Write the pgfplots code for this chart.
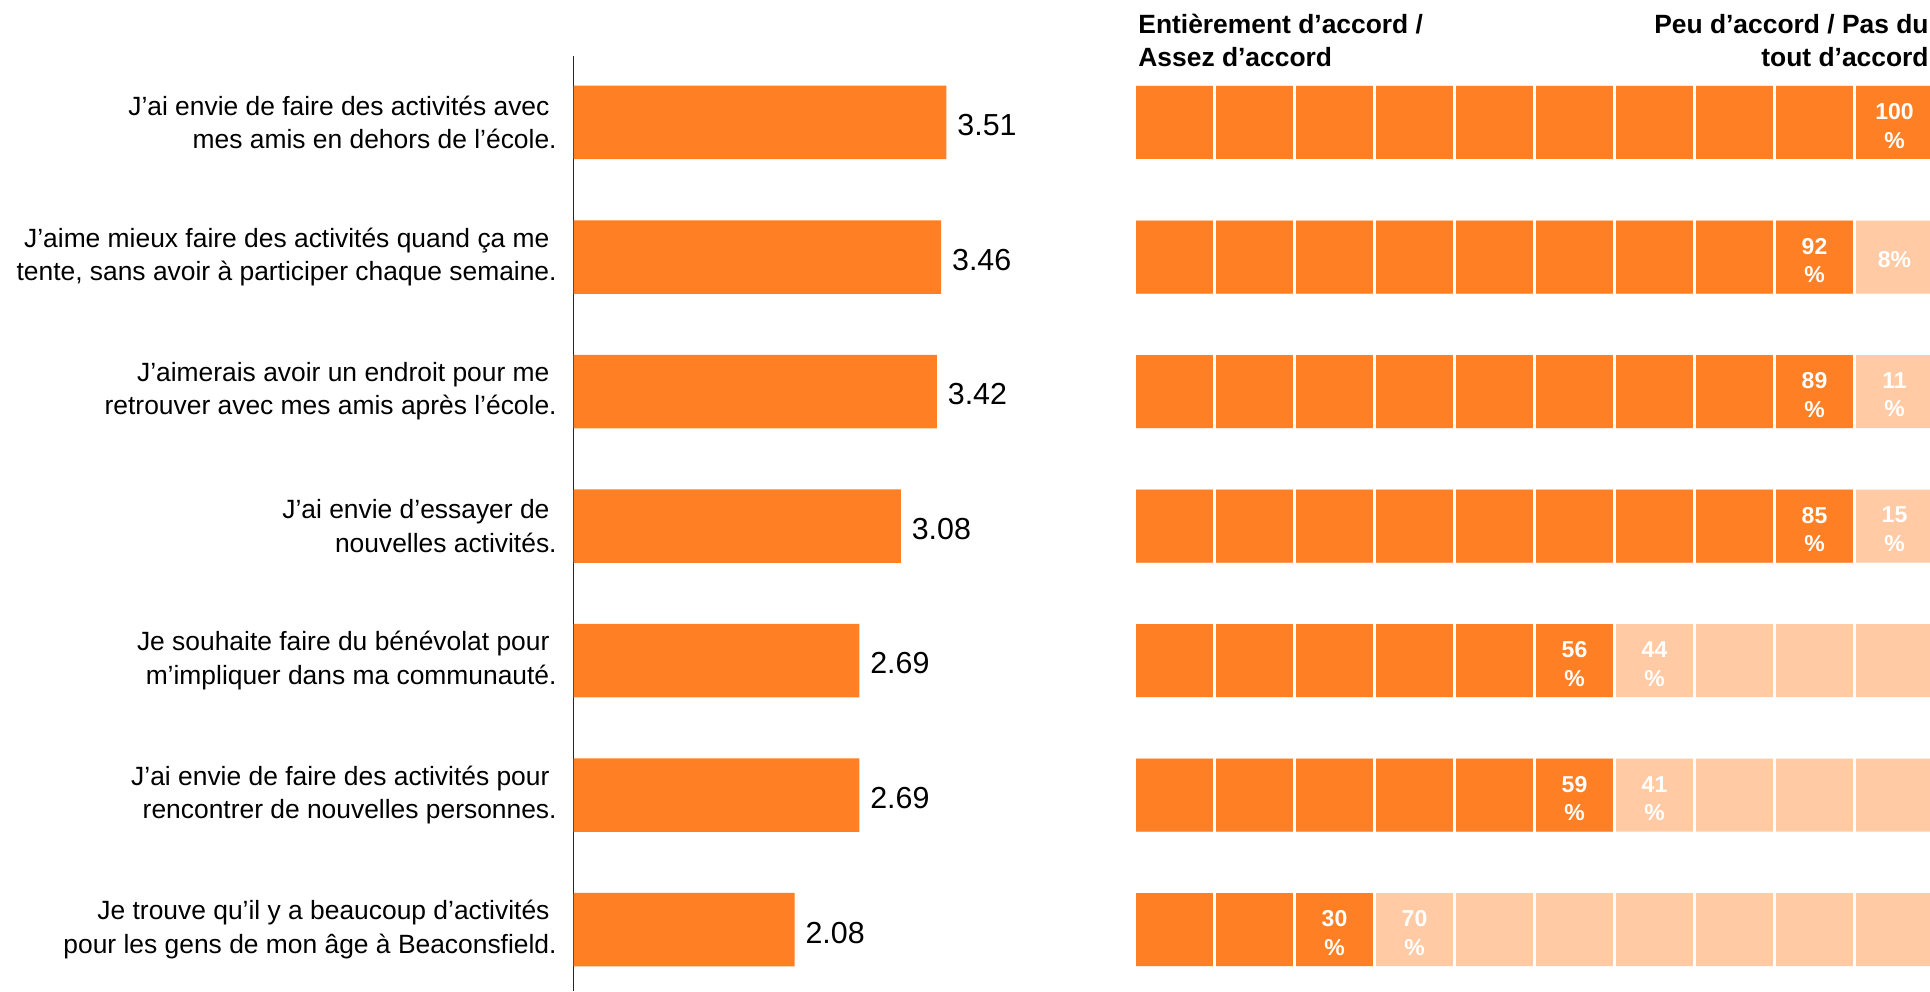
\documentclass[border=0pt]{standalone}
\usepackage{pgfplots}
\usepackage{pgfplotstable}
\pgfplotsset{compat=1.18}
\usepackage{fontspec}
\setmainfont{Liberation Sans}
\definecolor{dark}{RGB}{255,127,36}
\definecolor{light}{RGB}{255,202,164}
\newcommand\labfont{\fontsize{13.2pt}{16.6pt}\selectfont}
\newcommand\valfont{\fontsize{15.2pt}{18pt}\selectfont}
\newcommand\hdrfont{\fontsize{13.2pt}{16.6pt}\selectfont\bfseries}
\newcommand\pctfont{\fontsize{11.5pt}{14.25pt}\selectfont\bfseries}

\pgfplotstableread{
row val
1 3.51
2 3.46
3 3.42
4 3.08
5 2.69
6 2.69
7 2.08
}\leftdata

\pgfplotstableread{
row agree total pctagree pctdis
1 10 10 100 0
2 9 10 92 8
3 9 10 89 11
4 9 10 85 15
5 6 10 56 44
6 6 10 59 41
7 3 10 30 70
}\rightdata

\begin{document}
\begin{tikzpicture}
\useasboundingbox (0pt,0pt) rectangle (965pt,495.5pt);
\clip (0pt,0pt) rectangle (965pt,495.5pt);

\begin{axis}[
  at={(286.75pt,0pt)}, anchor=south west,
  scale only axis, width=265.625pt, height=467.5pt,
  xmin=0, xmax=5, ymin=0.5056, ymax=7.457, y dir=reverse,
  xbar, bar width=36.75pt,
  axis x line=none, axis y line=left,
  y axis line style={-, line width=0.6pt, color=black!85},
  xtick=\empty, ytick={1,...,7}, major tick length=0pt,
  yticklabels={
    {J’ai envie de faire des activités avec\kern0.27em\\mes amis en dehors de l’école.},
    {J’aime mieux faire des activités quand ça me\kern0.27em\\tente, sans avoir à participer chaque semaine.},
    {J’aimerais avoir un endroit pour me\kern0.27em\\retrouver avec mes amis après l’école.},
    {J’ai envie d’essayer de\kern0.27em\\nouvelles activités.},
    {Je souhaite faire du bénévolat pour\kern0.27em\\m’impliquer dans ma communauté.},
    {J’ai envie de faire des activités pour\kern0.27em\\rencontrer de nouvelles personnes.},
    {Je trouve qu’il y a beaucoup d’activités\kern0.27em\\pour les gens de mon âge à Beaconsfield.}
  },
  yticklabel style={font=\labfont, align=right, inner sep=0pt, xshift=-8.25pt},
  /pgf/number format/fixed, /pgf/number format/fixed zerofill,
  /pgf/number format/precision=2, /pgf/number format/assume math mode=true,
  nodes near coords,
  nodes near coords style={font=\valfont, text=black, inner sep=0pt, xshift=5.3pt, yshift=-1.5pt},
  clip=false,
]
\addplot[fill=dark, draw=none] table[x=val, y=row] {\leftdata};
\end{axis}

\begin{axis}[
  at={(567.25pt,0pt)}, anchor=south west,
  scale only axis, width=400pt, height=467.5pt,
  xmin=0, xmax=10, ymin=0.5056, ymax=7.457, y dir=reverse,
  xbar, bar width=36.5pt,
  axis line style={draw=none},
  xtick={0,...,10}, xticklabels={}, ytick=\empty, major tick length=0pt,
  xmajorgrids, major grid style={white, line width=1.5pt},
  axis on top, clip=false,
]
\addplot[fill=light, draw=none, bar shift=0pt] table[x=total, y=row] {\rightdata};
\addplot[fill=dark, draw=none, bar shift=0pt] table[x=agree, y=row] {\rightdata};
\begin{scope}[every node/.style={font=\pctfont, text=white, align=center, inner sep=0pt, yshift=-1.7pt}]
\node at (axis cs:9.5,1) {100\\\%};
\node at (axis cs:8.5,2) {92\\\%};
\node[yshift=0.4pt] at (axis cs:9.5,2) {8\%};
\node at (axis cs:8.5,3) {89\\\%};
\node at (axis cs:9.5,3) {11\\\%};
\node at (axis cs:8.5,4) {85\\\%};
\node at (axis cs:9.5,4) {15\\\%};
\node at (axis cs:5.5,5) {56\\\%};
\node at (axis cs:6.5,5) {44\\\%};
\node at (axis cs:5.5,6) {59\\\%};
\node at (axis cs:6.5,6) {41\\\%};
\node at (axis cs:2.5,7) {30\\\%};
\node at (axis cs:3.5,7) {70\\\%};
\end{scope}
\end{axis}

\node[font=\hdrfont, anchor=base west, inner sep=0pt] at (569pt,478.85pt) {Entièrement d’accord /};
\node[font=\hdrfont, anchor=base west, inner sep=0pt] at (569pt,462.15pt) {Assez d’accord};
\node[font=\hdrfont, anchor=base east, inner sep=0pt] at (964.5pt,478.85pt) {Peu d’accord / Pas du};
\node[font=\hdrfont, anchor=base east, inner sep=0pt] at (964.5pt,462.15pt) {tout d’accord};
\end{tikzpicture}
\end{document}
